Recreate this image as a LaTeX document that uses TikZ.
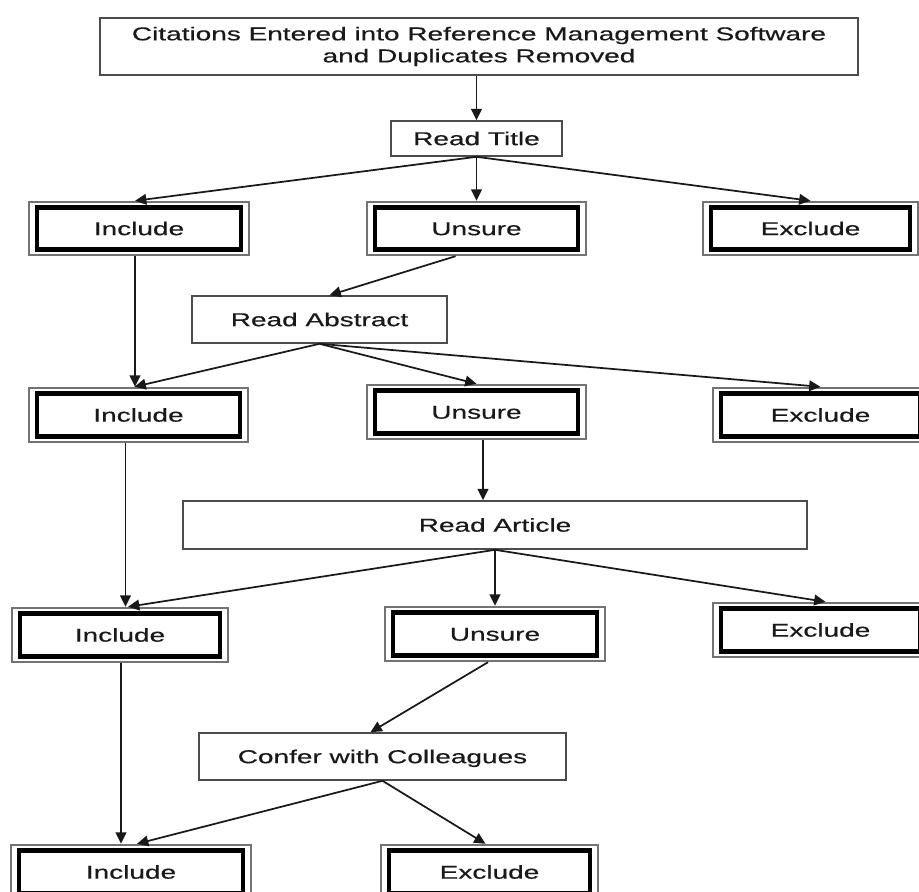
\documentclass[tikz,border=0pt]{standalone}
\usepackage{fontspec}
\setmainfont[FakeBold=0.35]{Liberation Sans}
\usepackage{graphicx}
\usetikzlibrary{arrows.meta,calc}
\newcommand\wtxt[1]{\scalebox{1.5}[1]{#1}}
\begin{document}
\begin{tikzpicture}[x=0.75pt,y=-0.75pt,
  every node/.style={font=\fontsize{14}{16.5}\selectfont, text=black!90},
  sz/.style 2 args={minimum width=#1*0.75pt, minimum height=#2*0.75pt},
  one/.style={text height=10pt, text depth=0pt},
  sbox/.style={draw=black!70, line width=1.2pt, fill=white, inner sep=0pt},
  dbox/.style={draw=black!55, line width=1.8pt, fill=white, inner sep=0pt, one,
    path picture={\draw[line width=3.3pt,black]
      ($(path picture bounding box.north west)+(8,5.5)$) rectangle
      ($(path picture bounding box.south east)+(-8,-5.5)$);}},
  arr/.style={-{Triangle[length=8.5pt,width=8pt]}, line width=1.3pt, black!90}]
\useasboundingbox (0,0) rectangle (919,891);
\clip (0,0) rectangle (919,891);
\fill[white] (0,0) rectangle (919,891);

% nodes
\node[sbox,sz={758}{57},align=center] (top) at (479,46.5)
  {\wtxt{Citations Entered into Reference Management Software}\\ \wtxt{and Duplicates Removed}};
\node[sbox,one,sz={171}{35}] (title) at (476.5,138.5) {\wtxt{Read Title}};

\node[dbox,sz={220}{53}] (inc1) at (139,228.5) {\wtxt{Include}};
\node[dbox,sz={219}{53}] (uns1) at (476.5,228.5) {\wtxt{Unsure}};
\node[dbox,sz={215}{53}] (exc1) at (810.5,228.5) {\wtxt{Exclude}};

\node[sbox,one,sz={255}{47}] (abs) at (319.5,319.5) {\wtxt{Read Abstract}};

\node[dbox,sz={219}{54}] (inc2) at (138.5,415) {\wtxt{Include}};
\node[dbox,sz={219}{54}] (uns2) at (476.5,412) {\wtxt{Unsure}};
\node[dbox,sz={215}{54}] (exc2) at (820.5,415) {\wtxt{Exclude}};

\node[sbox,one,sz={624}{48}] (art) at (495,525) {\wtxt{Read Article}};

\node[dbox,sz={216}{54}] (inc3) at (120,635) {\wtxt{Include}};
\node[dbox,sz={220}{54}] (uns3) at (495,634) {\wtxt{Unsure}};
\node[dbox,sz={215}{54}] (exc3) at (820.5,630) {\wtxt{Exclude}};

\node[sbox,one,sz={367}{47}] (conf) at (382.5,756.5) {\wtxt{Confer with Colleagues}};

\node[dbox,sz={240}{54}] (inc4) at (131,872) {\wtxt{Include}};
\node[dbox,sz={217}{54}] (exc4) at (489.5,872) {\wtxt{Exclude}};

% connectors
\draw[arr] (top.south -| title.north) -- (title.north);
\draw[arr] (title.south) -- ($(inc1.north)+(-4,0)$);
\draw[arr] (title.south) -- (uns1.north);
\draw[arr] (title.south) -- (exc1.north);
\draw[arr] ($(uns1.south)+(-21,0)$) -- ($(abs.north)+(10,0)$);

\draw[arr] (abs.south) -- ($(inc2.north)+(-4,0)$);
\coordinate (i1s) at ($(inc1.south)+(-4,0)$);
\draw[arr] (i1s) -- (i1s |- inc2.north);
\draw[arr] (abs.south) -- (uns2.north);
\draw[arr] (abs.south) -- (exc2.north);

\coordinate (u2s) at ($(uns2.south)+(6.5,0)$);
\draw[arr] (u2s) -- (u2s |- art.north);

\coordinate (i2s) at ($(inc2.south)+(-13,0)$);
\draw[arr] (i2s) -- (i2s |- inc3.north);
\draw[arr] (art.south) -- ($(inc3.north)+(8,0)$);
\draw[arr] (art.south) -- (uns3.north);
\draw[arr] (art.south) -- ($(exc3.north)+(5,0)$);

\draw[arr] ($(uns3.south)+(-7,0)$) -- ($(conf.north)+(-12,0)$);

\coordinate (i3s) at ($(inc3.south)+(1,0)$);
\draw[arr] (i3s) -- (i3s |- inc4.north);
\draw[arr] (conf.south) -- ($(inc4.north)+(6,0)$);
\draw[arr] (conf.south) -- ($(exc4.north)+(-4,0)$);
\end{tikzpicture}
\end{document}
